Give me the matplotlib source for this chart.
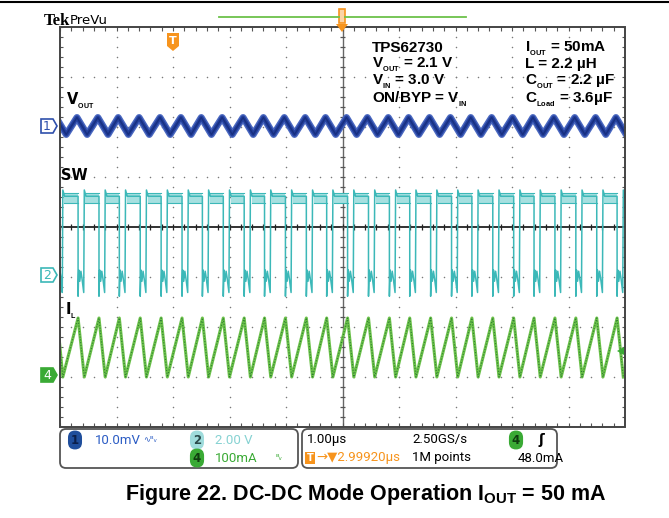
import numpy as np
import matplotlib.pyplot as plt
from matplotlib.patches import Rectangle, Polygon, FancyBboxPatch

plt.rcParams['mathtext.fontset'] = 'custom'
plt.rcParams['mathtext.rm'] = 'Liberation Sans:bold'
plt.rcParams['mathtext.it'] = 'Liberation Sans:bold'
plt.rcParams['mathtext.bf'] = 'Liberation Sans:bold'

# --- data (time in us from the left graticule edge, 1 us/div) ---
# switch node edges
sw_fall_t = [-0.05, 0.32, 0.69, 1.05, 1.42, 1.79, 2.16, 2.52, 2.89, 3.26, 3.62, 3.99, 4.36, 4.72,
             5.09, 5.46, 5.83, 6.19, 6.56, 6.93, 7.29, 7.66, 8.03, 8.39, 8.76, 9.13, 9.50, 9.86]
sw_rise_t = [0.05, 0.43, 0.80, 1.16, 1.53, 1.90, 2.27, 2.63, 3.00, 3.37, 3.73, 4.10, 4.47, 4.83,
             5.20, 5.57, 5.94, 6.30, 6.67, 7.04, 7.40, 7.77, 8.14, 8.50, 8.87, 9.24, 9.61, 9.97]
sw_high_v = 3.15
sw_band_v = (2.9, 3.3)
sw_spike_v = -0.85
sw_overshoot_v = 3.4
# ringing at ground during the off time (delay after the falling edge, volts)
sw_ring_dt = [0.012, 0.03, 0.05, 0.07]
sw_ring_v = [0.2, -0.25, 0.15, -0.15]

# inductor current: peaks at the falling edges, valleys at the rising edges
il_peak_ma = 114
il_valley_ma = -4

# output voltage ripple (AC, mV)
vout_peak_t = [-0.07, 0.30, 0.67, 1.03, 1.40, 1.77, 2.14, 2.50, 2.87, 3.24, 3.60, 3.97, 4.34, 4.70,
               5.07, 5.44, 5.81, 6.17, 6.54, 6.91, 7.27, 7.64, 8.01, 8.37, 8.74, 9.11, 9.48, 9.84]
vout_valley_t = [0.11, 0.48, 0.85, 1.21, 1.58, 1.95, 2.32, 2.68, 3.05, 3.42, 3.78, 4.15, 4.52, 4.88,
                 5.25, 5.62, 5.99, 6.35, 6.72, 7.09, 7.45, 7.82, 8.19, 8.55, 8.92, 9.29, 9.66, 10.02]
vout_peak_mv = 1.7
vout_valley_mv = -1.7

# channel scale (per div) and ground marker position (div from centre)
ch1_scale, ch1_pos = 10.0, 2.02     # mV/div
ch2_scale, ch2_pos = 2.0, -0.96     # V/div
ch4_scale, ch4_pos = 100.0, -2.96   # mA/div
trig_t = 2.0
trig_level_ma = 48.0

W, H = 669, 518
fig = plt.figure(figsize=(W / 100, H / 100), dpi=100)
gx0, gx1, gy0, gy1 = 60, 625, 27, 427
ax = fig.add_axes([gx0 / W, 1 - gy1 / H, (gx1 - gx0) / W, (gy1 - gy0) / H])
ax.set_xlim(0, 10)
ax.set_ylim(-4, 4)
ax.axis('off')

# graticule
gcol = '#7a7a7a'
mx = np.arange(0, 10.001, 0.2)
my = np.arange(-4, 4.001, 0.2)
for xv in range(1, 10):
    if xv != 5:
        ax.plot(np.full_like(my, xv), my, ls='none', marker='o', ms=1.1, mew=0, color=gcol)
for yv in range(-3, 4):
    if yv != 0:
        ax.plot(mx, np.full_like(mx, yv), ls='none', marker='o', ms=1.1, mew=0, color=gcol)
ax.axhline(0, color='#222222', lw=1.3, zorder=1)
ax.axvline(5, color='#666666', lw=1.0, zorder=1)
ax.vlines(mx, -0.06, 0.06, color='#222222', lw=0.9)
ax.hlines(my, 4.95, 5.05, color='#555555', lw=0.9)
ax.vlines(mx, 3.92, 4, color='#555555', lw=0.8)
ax.vlines(mx, -4, -3.92, color='#555555', lw=0.8)
ax.hlines(my, 0, 0.05, color='#555555', lw=0.8)
ax.hlines(my, 9.95, 10, color='#555555', lw=0.8)
ax.add_patch(Rectangle((0, -4), 10, 8, fill=False, ec='#444444', lw=1.4, clip_on=False, zorder=5))

# channel 2: SW
sw_t, sw_v = [], []
for f, r in zip(sw_fall_t, sw_rise_t):
    sw_t += [f, f] + [f + d for d in sw_ring_dt] + [r - 0.01, r, r + 0.03]
    sw_v += [sw_high_v, sw_spike_v] + sw_ring_v + [-0.7, sw_overshoot_v, sw_high_v]
sw_y = ch2_pos + np.array(sw_v) / ch2_scale
sw_col = '#3cb8b8'
for r, f in zip(sw_rise_t[:-1], sw_fall_t[1:]):
    ax.fill_between([r + 0.02, f], ch2_pos + sw_band_v[0] / ch2_scale, ch2_pos + sw_band_v[1] / ch2_scale,
                    color='#a6e0e0', lw=0, zorder=2)
    ax.plot([r + 0.02, f], [ch2_pos + sw_band_v[1] / ch2_scale] * 2, color=sw_col, lw=0.8, zorder=2)
    ax.plot([r + 0.02, f], [ch2_pos + sw_band_v[0] / ch2_scale] * 2, color=sw_col, lw=0.8, zorder=2)
ax.plot(sw_t, sw_y, color=sw_col, lw=1.1, zorder=3)

# channel 4: IL
il_t, il_v = [], []
for f, r in zip(sw_fall_t, sw_rise_t):
    il_t += [f, r]
    il_v += [il_peak_ma, il_valley_ma]
il_y = ch4_pos + np.array(il_v) / ch4_scale
ax.plot(il_t, il_y, color='#6cc24a', lw=2.2, zorder=3)
ax.plot(il_t, il_y, color='#2e7d32', lw=0.8, ls=(0, (1, 1.5)), zorder=4)

# channel 1: VOUT
vo_t, vo_v = [], []
for p, v in zip(vout_peak_t, vout_valley_t):
    vo_t += [p, v]
    vo_v += [vout_peak_mv, vout_valley_mv]
vo_y = ch1_pos + np.array(vo_v) / ch1_scale
ax.plot(vo_t, vo_y, color='#4a68c0', lw=5.0, zorder=3)
ax.plot(vo_t, vo_y, color='#24409c', lw=3.0, zorder=3)
ax.plot(vo_t, vo_y, color='#172f80', lw=1.0, zorder=4)

# ---- decorations in pixel coordinates ----
d = fig.add_axes([0, 0, 1, 1], zorder=10)
d.set_xlim(0, W)
d.set_ylim(H, 0)
d.axis('off')
d.patch.set_alpha(0)

d.plot([0, W], [2, 2], color='black', lw=1.5)
d.text(44, 25, 'Tek', family='Liberation Serif', weight='bold', fontsize=12, va='baseline')
d.text(70, 24, 'PreVu', family='DejaVu Sans', fontsize=9.5, va='baseline')
d.plot([219, 339], [17, 17], color='#6cc24a', lw=1.3)
d.plot([345, 466], [17, 17], color='#6cc24a', lw=1.3)
orange = '#f7941d'
d.add_patch(Rectangle((339, 9), 6, 14, fc='#fbd3a6', ec=orange, lw=1.2))
d.add_patch(Polygon([(336, 24), (348, 24), (342, 32)], fc=orange, ec='none'))

# trigger T marker
tx = gx0 + trig_t / 10 * (gx1 - gx0)
d.add_patch(Polygon([(tx - 6, 33), (tx + 6, 33), (tx + 6, 46), (tx, 51), (tx - 6, 46)], fc=orange, ec='none'))
d.text(tx, 41, 'T', color='white', weight='bold', fontsize=8, ha='center', va='center')

# channel ground markers
def gnd_marker(y, label, ec, fc, tc):
    d.add_patch(Polygon([(41, y - 7), (53, y - 7), (57, y), (53, y + 7), (41, y + 7)], fc=fc, ec=ec, lw=1.2))
    d.text(47, y + 0.5, label, color=tc, fontsize=9, ha='center', va='center')

def div_to_px(yd):
    return (gy0 + gy1) / 2 - yd * (gy1 - gy0) / 8

gnd_marker(div_to_px(ch1_pos), '1', '#2f50ac', 'white', '#2f50ac')
gnd_marker(div_to_px(ch2_pos), '2', '#3cb8b8', 'white', '#3cb8b8')
gnd_marker(div_to_px(ch4_pos), '4', '#3aaa35', '#3aaa35', 'white')
ty = div_to_px(ch4_pos + trig_level_ma / ch4_scale)
d.add_patch(Polygon([(617, ty), (624, ty - 4), (624, ty + 4)], fc='#3aaa35', ec='none'))

# trace labels
lab = dict(fontsize=10.5, weight='bold', va='baseline', color='black')
d.text(66, 105, r'V$_{_{OUT}}$', **lab)
d.text(61, 180, 'SW', **lab)
d.text(65, 315, r'I$_{_{L}}$', **lab)

# conditions
info = dict(fontsize=11, weight='bold', va='baseline', color='black', family='Liberation Sans')
d.text(372, 52, 'TPS62730', **info)
d.text(372, 68, r'V$_{_{OUT}}$ = 2.1 V', **info)
d.text(372, 85, r'V$_{_{IN}}$ = 3.0 V', **info)
d.text(372, 103, r'ON/BYP = V$_{_{IN}}$', **info)
d.text(525, 52, r'I$_{_{OUT}}$ = 50mA', **info)
d.text(525, 68, 'L = 2.2 µH', **info)
d.text(525, 85, r'C$_{_{OUT}}$ = 2.2 µF', **info)
d.text(525, 103, r'C$_{_{Load}}$ = 3.6µF', **info)

# status bar
for x0, x1 in [(60, 298), (302, 557)]:
    d.add_patch(FancyBboxPatch((x0, 429), x1 - x0, 39, boxstyle='round,pad=0,rounding_size=6',
                               fc='white', ec='#555555', lw=1.3))
sfont = dict(family=['Liberation Sans Narrow', 'Roboto', 'DejaVu Sans'], fontsize=9.5, va='center')

def badge(x, y, label, fc, tc):
    d.text(x, y, label, color=tc, fontsize=8.5, ha='center', va='center', weight='bold',
           bbox=dict(boxstyle='round,pad=0.25,rounding_size=0.6', fc=fc, ec='none'))

badge(75, 440, '1', '#1f4e9c', '#0b1f4a')
d.text(95, 440, '10.0mV', color='#2b5cc4', **sfont)
d.text(143, 439, '∿ᴮᵥ', color='#2b5cc4', fontsize=6, va='center')
badge(197, 440, '2', '#9fdcdc', '#2a4a4a')
d.text(215, 440, '2.00 V', color='#86d2d2', **sfont)
badge(197, 458, '4', '#3aaa35', '#0f3d0f')
d.text(215, 458, '100mA', color='#3aaa35', **sfont)
d.text(275, 458, 'ᴮᵥ', color='#3aaa35', fontsize=6, va='center')

d.text(307, 440, '1.00µs', color='black', **sfont)
d.text(412, 440, '2.50GS/s', color='black', **sfont)
badge(516, 440, '4', '#3aaa35', '#0f3d0f')
d.text(538, 440, 'ʃ', color='black', fontsize=10, va='center', weight='bold')
d.add_patch(Rectangle((305, 452), 10, 12, fc=orange, ec='none'))
d.text(310, 458, 'T', color='white', fontsize=7, ha='center', va='center', weight='bold')
d.text(316, 458, '→▼2.99920µs', color=orange, **sfont)
d.text(412, 458, '1M points', color='black', **sfont)
d.text(518, 458, '48.0mA', color='black', **sfont)

# caption
d.text(125, 500, r'Figure 22. DC-DC Mode Operation I$_{OUT}$ = 50 mA', fontsize=15.5, weight='bold',
       family='Liberation Sans', va='baseline')

fig.savefig('out.png', dpi=100)
